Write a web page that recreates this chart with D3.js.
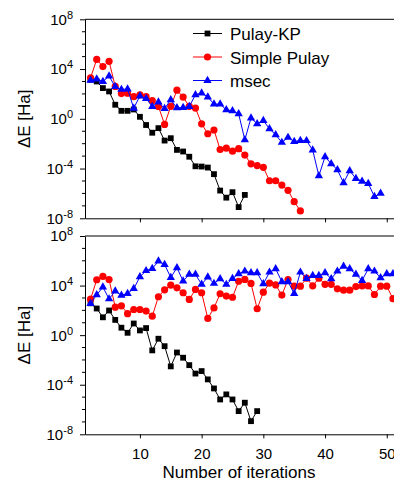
<!DOCTYPE html>
<html>
<head>
<meta charset="utf-8">
<script src="https://cdn.jsdelivr.net/npm/d3@7"></script>
<style>
  body { margin: 0; background: #fff; }
  svg { display: block; font-family: "Liberation Sans", Arial, sans-serif; }
</style>
</head>
<body>
<div id="chart"></div>
<script>
// log10(dE / Ha), one value per iteration, first one is iteration 2
var firstIter = 2;

// upper panel
var kpTop = [3.14, 3.0, 2.47, 2.2, 1.13, 0.64, 0.64, 0.75, 0.16, -0.5, -1.12, -0.75, -1.75, -1.56,
  -2.5, -2.63, -3.05, -3.82, -3.84, -3.92, -4.45, -5.77, -6.34, -5.9, -7.1, -6.12];
var simpleTop = [3.3, 4.77, 4.2, 4.62, 2.6, 2.03, 2.06, 1.78, 1.93, 1.78, 1.46, 0.99, -0.45, 1.0,
  2.3, 1.75, 1.0, 0.86, -0.4, -1.2, -0.9, -2.47, -2.36, -2.6, -2.4, -2.92, -3.62, -3.76, -3.9,
  -4.98, -4.98, -5.33, -5.75, -6.66, -7.41];
var msecTop = [3.1, 3.2, 3.0, 3.43, 2.58, 2.36, 2.39, 0.85, 1.83, 1.63, 0.99, 1.35, 0.82, 1.53,
  0.88, 0.9, 0.99, 1.93, 2.07, 1.75, 1.18, 1.18, 0.72, 0.64, 0.4, -1.69, 0.06, -0.4, -0.14, -0.81,
  -1.29, -1.9, -1.5, -1.83, -1.75, -1.76, -2.52, -4.59, -3.05, -3.62, -4.1, -5.15, -4.18, -4.8,
  -5.02, -5.2, -6.25, -6.0];

// lower panel
var kpBottom = [2.57, 2.15, 1.44, 1.99, 1.23, 0.6, 0.19, 0.94, 0.38, 0.57, -1.23, -0.29, -0.89,
  -2.52, -1.4, -1.82, -2.42, -3.1, -2.9, -3.57, -4.3, -5.19, -4.78, -5.19, -6.13, -5.45, -6.94, -6.13];
var simpleBottom = [2.9, 4.47, 4.74, 4.49, 2.26, 2.37, 1.73, 2.07, 2.07, 1.94, 1.53, 3.1, 3.66,
  4.03, 3.82, 3.42, 2.88, 3.69, 3.42, 1.35, 2.2, 3.34, 3.15, 3.06, 4.35, 4.5, 4.17, 2.13, 3.47,
  4.2, 4.05, 3.23, 4.49, 3.95, 3.95, 4.6, 3.98, 4.6, 4.1, 4.1, 3.74, 3.63, 3.63, 3.92, 3.97, 3.97,
  3.28, 3.95, 3.95, 2.94];
var msecBottom = [2.55, 3.25, 3.88, 2.92, 3.55, 3.22, 3.36, 3.75, 4.7, 5.2, 5.37, 5.97, 5.7, 4.65,
  5.44, 4.36, 4.9, 4.9, 4.1, 4.68, 4.17, 4.55, 4.09, 4.57, 4.95, 5.16, 5.03, 5.03, 4.14, 5.08,
  5.35, 4.31, 4.31, 3.36, 5.08, 4.57, 4.81, 4.81, 5.03, 4.55, 5.16, 5.56, 5.35, 4.9, 4.41, 5.35,
  5.16, 4.63, 4.95, 4.95];

var seriesNames = ["Pulay-KP", "Simple Pulay", "msec"];
var seriesColors = ["#000000", "#ff0000", "#0000ff"];
var seriesShapes = ["square", "circle", "triangle"];
var yTickExps = [-8, -4, 0, 4, 8];
var xTickValues = [10, 20, 30, 40, 50];

var width = 394, height = 481;
var svg = d3.select("#chart").append("svg")
    .attr("width", width)
    .attr("height", height);

var x = d3.scaleLinear().domain([1.1, 52]).range([85, 399.1]);

var panels = [
  { top: 19.3, bottom: 218.3, series: [kpTop, simpleTop, msecTop], labels: false, legend: true },
  { top: 236, bottom: 434.3, series: [kpBottom, simpleBottom, msecBottom], labels: true, legend: false }
];

function drawMarker(g, shape, color) {
  if (shape === "square") {
    g.append("rect").attr("x", -2.9).attr("y", -2.9).attr("width", 5.8).attr("height", 5.8)
      .attr("fill", color);
  } else if (shape === "circle") {
    g.append("circle").attr("r", 3.6).attr("fill", color);
  } else {
    g.append("path").attr("d", d3.symbol().type(d3.symbolTriangle).size(30)()).attr("fill", color);
  }
}

panels.forEach(function (p) {
  var y = d3.scaleLog().domain([1e-8, 1e8]).range([p.bottom, p.top]);
  var layer = svg.append("g");

  // frame: top line and left axis
  layer.append("line")
    .attr("x1", 85).attr("x2", 399).attr("y1", p.top).attr("y2", p.top)
    .attr("stroke", "#000").attr("stroke-width", 1);

  var yAxis = d3.axisLeft(y)
    .tickValues(yTickExps.map(function (e) { return Math.pow(10, e); }))
    .tickSize(5).tickSizeOuter(0).tickFormat("");
  layer.append("g").attr("transform", "translate(85,0)").call(yAxis)
    .select(".domain").attr("stroke", "#000");

  // minor ticks, one per decade
  var minor = d3.range(-8, 9).filter(function (e) { return yTickExps.indexOf(e) < 0; });
  layer.selectAll(".minor").data(minor).enter().append("line")
    .attr("class", "minor")
    .attr("x1", 82).attr("x2", 85)
    .attr("y1", function (e) { return y(Math.pow(10, e)); })
    .attr("y2", function (e) { return y(Math.pow(10, e)); })
    .attr("stroke", "#000");

  // y tick labels with superscript exponent
  var lab = layer.selectAll(".ylab").data(yTickExps).enter().append("text")
    .attr("class", "ylab")
    .attr("x", 73)
    .attr("y", function (e) { return y(Math.pow(10, e)) + 5.4; })
    .attr("text-anchor", "end")
    .attr("font-size", 15)
    .attr("fill", "#000");
  lab.append("tspan").text("10");
  lab.append("tspan").attr("dy", -6).attr("font-size", 11).text(function (e) { return e; });

  layer.append("text")
    .attr("transform", "translate(30," + ((p.top + p.bottom) / 2) + ") rotate(-90)")
    .attr("text-anchor", "middle")
    .attr("font-size", 17)
    .text("\u0394E [Ha]");

  var xAxis = d3.axisBottom(x).tickValues(xTickValues).tickSize(4).tickSizeOuter(0)
    .tickPadding(10);
  if (!p.labels) xAxis.tickFormat("");
  var gx = layer.append("g").attr("transform", "translate(0," + p.bottom + ")").call(xAxis);
  gx.attr("font-size", 15).attr("font-family", null);
  gx.select(".domain").attr("stroke", "#000");
  gx.selectAll("text").attr("fill", "#000");

  // series
  var line = d3.line()
    .x(function (d, i) { return x(firstIter + i); })
    .y(function (d) { return y(Math.pow(10, d)); });

  p.series.forEach(function (vals, k) {
    var s = layer.append("g");
    s.append("path").datum(vals)
      .attr("d", line)
      .attr("fill", "none")
      .attr("stroke", seriesColors[k])
      .attr("stroke-width", 1);
    s.selectAll(".pt").data(vals).enter().append("g")
      .attr("class", "pt")
      .attr("transform", function (d, i) {
        return "translate(" + x(firstIter + i) + "," + y(Math.pow(10, d)) + ")";
      })
      .each(function () { drawMarker(d3.select(this), seriesShapes[k], seriesColors[k]); });
  });

  if (p.legend) {
    var leg = layer.append("g");
    seriesNames.forEach(function (name, k) {
      var base = 40 + k * 23.5;
      var row = leg.append("g");
      row.append("line")
        .attr("x1", 193).attr("x2", 222).attr("y1", base - 6.5).attr("y2", base - 6.5)
        .attr("stroke", seriesColors[k]);
      var m = row.append("g").attr("transform", "translate(207.5," + (base - 6.5) + ")");
      drawMarker(m, seriesShapes[k], seriesColors[k]);
      row.append("text")
        .attr("x", 230).attr("y", base)
        .attr("font-size", 17)
        .text(name);
    });
  }
});

svg.append("text")
  .attr("x", 239).attr("y", 478)
  .attr("text-anchor", "middle")
  .attr("font-size", 17)
  .text("Number of iterations");
</script>
</body>
</html>
